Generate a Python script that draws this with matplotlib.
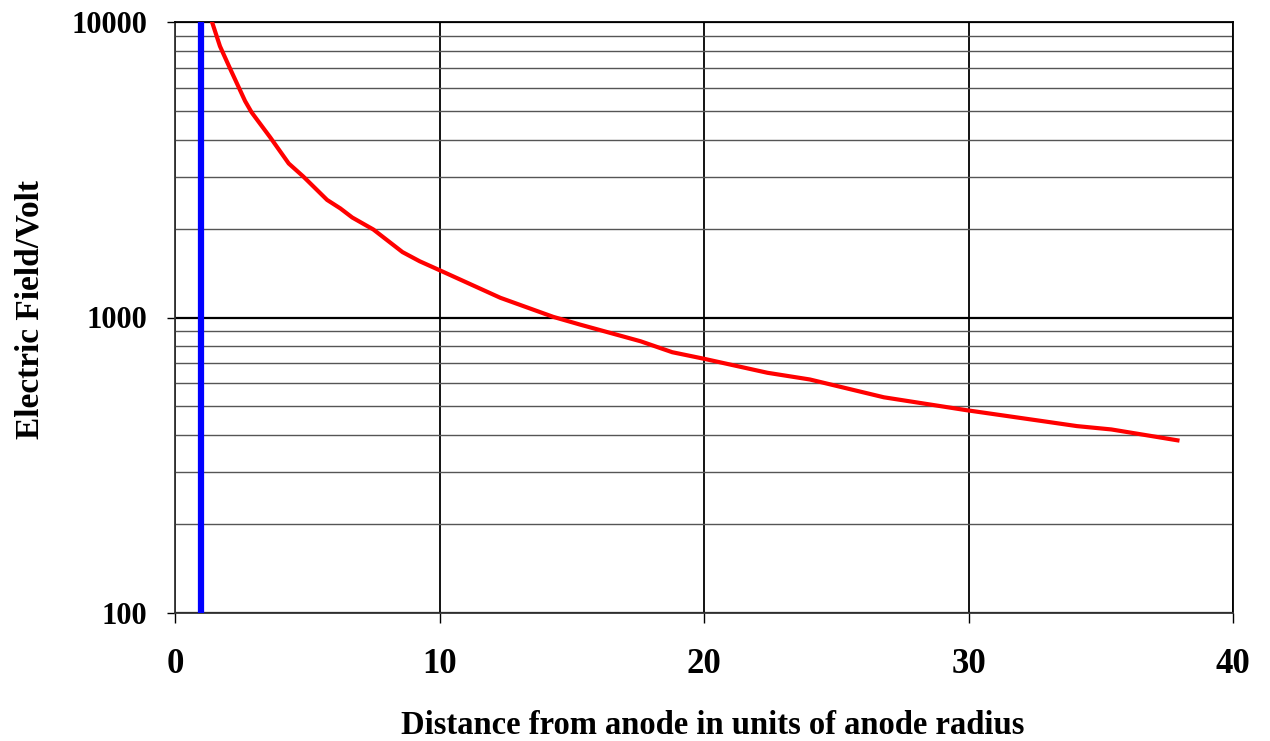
import numpy as np
import matplotlib.pyplot as plt
from matplotlib.ticker import LogLocator, NullFormatter, FixedLocator

plt.rcParams['font.family'] = ['Liberation Serif', 'DejaVu Serif']
plt.rcParams['font.weight'] = 'bold'

# field along the radius
r = [1.4, 1.7, 2.1, 2.65, 2.9, 3.6, 4.3, 4.85, 5.75, 6.25, 6.7, 7.5, 8.6, 9.25,
     10.0, 12.3, 14.3, 15.3, 17.6, 18.8, 20.0, 22.4, 24.0, 26.8, 29.9, 32.8,
     34.1, 35.4, 37.9]
field = [10000, 8280, 6900, 5400, 4940, 4070, 3320, 3000, 2500, 2340, 2180,
         1985, 1665, 1550, 1446, 1166, 1005, 947, 831, 763, 725, 650, 617, 537,
         486, 446, 429, 418, 384]

# anode surface
anode_r = 1.0

x_ticks = [0, 10, 20, 30, 40]
y_ticks = [100, 1000, 10000]

fig = plt.figure(figsize=(12.7, 7.41), dpi=100)
ax = fig.add_axes([175/1270, 1 - 613/741, (1233 - 175)/1270, (613 - 22)/741])

ax.set_yscale('log')
ax.set_xlim(0, 40)
ax.set_ylim(100, 10000)

# grid: vertical at majors, horizontal at every decade step
ax.xaxis.set_major_locator(FixedLocator(x_ticks))
ax.yaxis.set_major_locator(FixedLocator(y_ticks))
ax.yaxis.set_minor_locator(LogLocator(base=10, subs=np.arange(2, 10)))
ax.yaxis.set_minor_formatter(NullFormatter())
ax.grid(True, which='major', axis='x', color='black', linewidth=1.3)
ax.grid(True, which='major', axis='y', color='black', linewidth=1.6)
ax.grid(True, which='minor', axis='y', color='#555555', linewidth=1.0)

ax.axvline(anode_r, color='#0000ff', linewidth=4.5, zorder=3)
ax.plot(r, field, color='#ff0000', linewidth=3, zorder=4)

ax.set_yticks(y_ticks)
ax.set_yticklabels(['100', '1000', '10000'])
ax.set_xticks(x_ticks)
ax.set_xticklabels([str(t) for t in x_ticks])

ax.tick_params(axis='y', which='major', direction='out', length=6, width=1,
               pad=14, labelsize=22)
ax.tick_params(axis='y', which='minor', length=0)
ax.tick_params(axis='x', which='major', direction='out', length=7, width=1,
               pad=18, labelsize=25)

for s in ['left', 'bottom']:
    ax.spines[s].set_color('#333333')
    ax.spines[s].set_linewidth(1.3)
for s in ['top', 'right']:
    ax.spines[s].set_color('black')
    ax.spines[s].set_linewidth(1.3)

fig.text((398 + 1027)/2/1270, 1 - 725/741,
         'Distance from anode in units of anode radius',
         ha='center', va='center', fontsize=23.5, fontweight='bold')
fig.text(30/1270, 1 - 310/741, 'Electric Field/Volt', rotation=90,
         ha='center', va='center', fontsize=24, fontweight='bold')

fig.savefig('out.png', dpi=100)
